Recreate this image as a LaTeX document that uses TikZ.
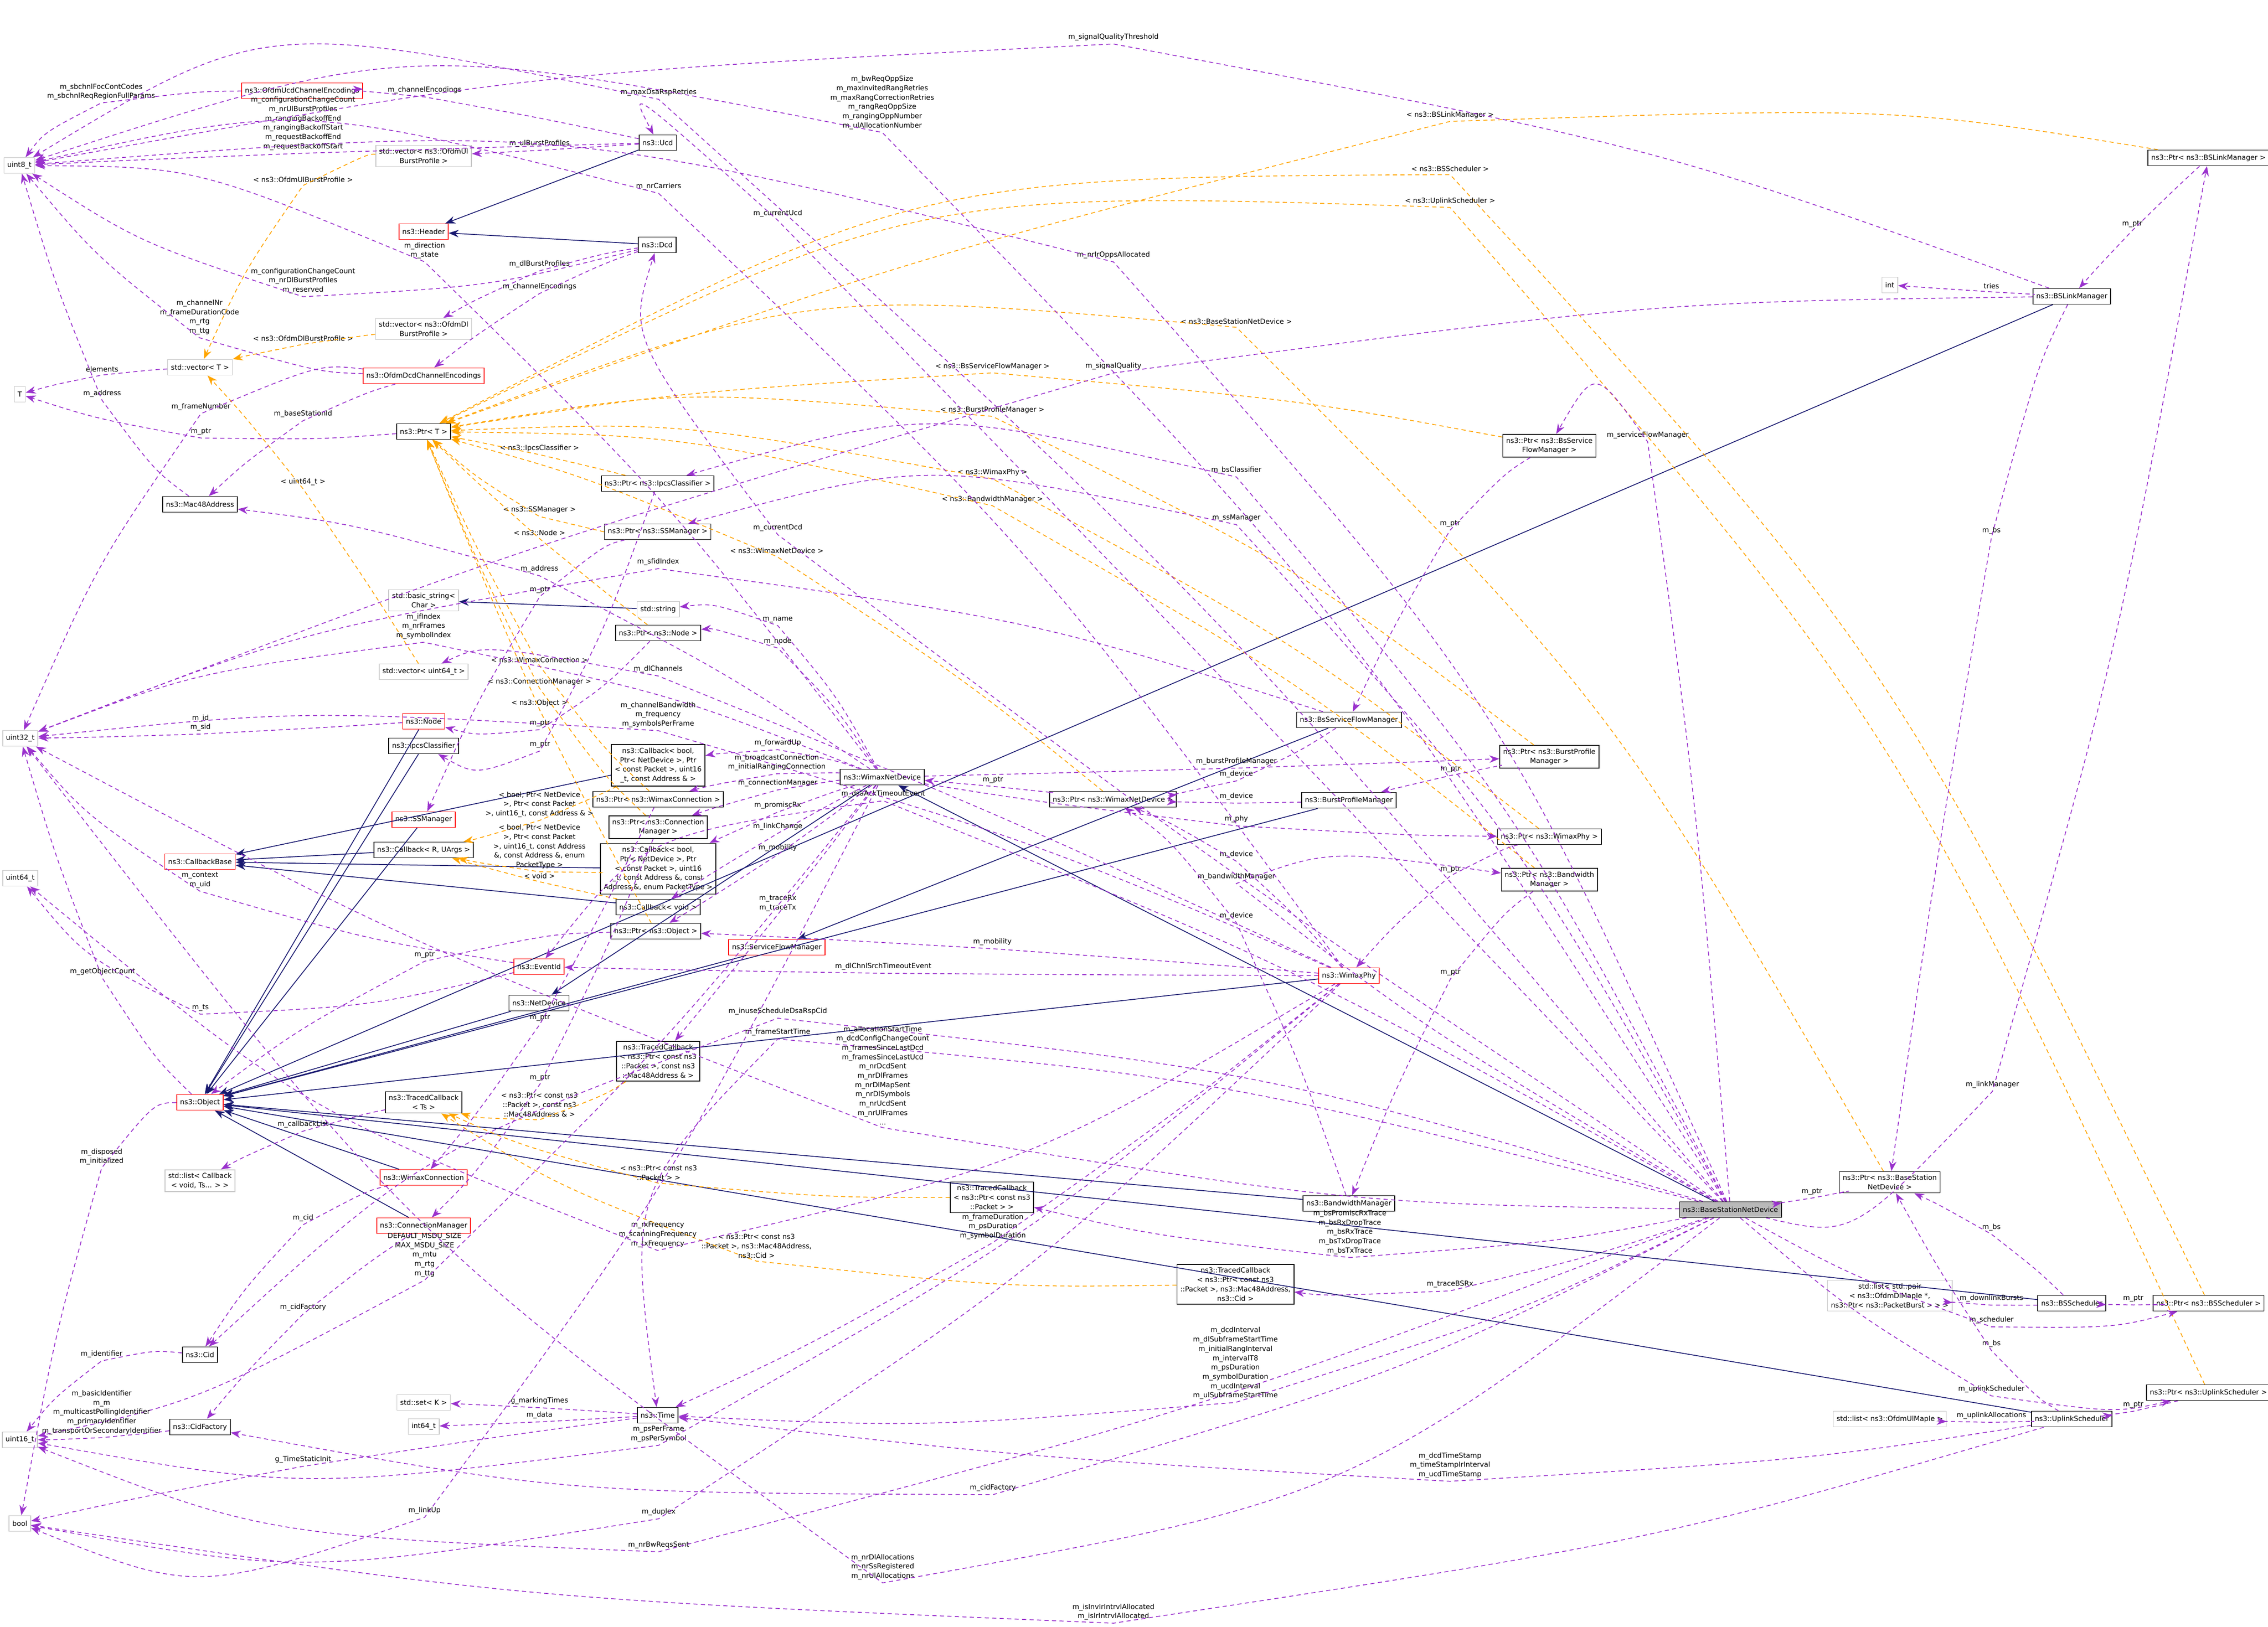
\documentclass[tikz,border=0pt]{standalone}
\usepackage{fontspec}
\setmainfont{DejaVu Sans}
\usetikzlibrary{calc,arrows.meta}
\definecolor{memcol}{HTML}{9A32CD}
\definecolor{inhcol}{HTML}{191970}
\definecolor{tplcol}{HTML}{FFA500}
% edge from #1 to #2, passing just under its label #4 placed at #3
\newcommand\edgevia[5]{\node[lbl] (L) at (#3) {#4};
  \coordinate (P) at ($(L.south)+(0,-0.06)$);
  \draw[#5] (#1) .. controls ($0.65*(P)+0.45*(#1)-0.1*(#2)$) .. (P)
    .. controls ($0.65*(P)+0.45*(#2)-0.1*(#1)$) .. (#2);}
\newcommand\mem[4]{\edgevia{#1}{#2}{#3}{#4}{memb}}
\newcommand\tpl[4]{\edgevia{#1}{#2}{#3}{#4}{tmpl}}
\begin{document}
\catcode`\_=12
\begin{tikzpicture}[%
  font=\fontsize{4.2}{5.6}\selectfont,
  >={Stealth[length=6pt,width=4.5pt]},
  cls/.style={draw=black,fill=white,line width=0.5pt,inner sep=2pt,align=center,minimum height=0.33cm},
  redcls/.style={cls,draw=red},
  extcls/.style={cls,draw=gray!45},
  lbl/.style={align=center,inner sep=0pt},
  memb/.style={->,draw=memcol,color=memcol,line width=0.5pt,dash pattern=on 2.5pt off 2pt},
  tmpl/.style={->,draw=tplcol,color=tplcol,line width=0.5pt,dash pattern=on 2.5pt off 2pt},
  inh/.style={->,draw=inhcol,color=inhcol,line width=0.5pt}
  ]
  \useasboundingbox (0,0) rectangle (47.97,-34.42);
  %% Nodes
  \node[extcls] (uint8) at (0.41,-3.50) {uint8_t};
  \node[redcls] (ofdmucd) at (6.39,-1.92) {ns3::OfdmUcdChannelEncodings};
  \node[cls] (ucd) at (13.91,-3.02) {ns3::Ucd};
  \node[extcls] (vecul) at (8.96,-3.30) {std::vector< ns3::OfdmUl\\BurstProfile >};
  \node[redcls] (header) at (8.96,-4.90) {ns3::Header};
  \node[cls] (dcd) at (13.90,-5.18) {ns3::Dcd};
  \node[extcls] (vecdl) at (8.96,-6.96) {std::vector< ns3::OfdmDl\\BurstProfile >};
  \node[extcls] (vect) at (4.23,-7.77) {std::vector< T >};
  \node[redcls] (ofdmdcd) at (8.96,-7.95) {ns3::OfdmDcdChannelEncodings};
  \node[extcls] (tt) at (0.42,-8.34) {T};
  \node[cls] (ptrt) at (8.96,-9.13) {ns3::Ptr< T >};
  \node[cls] (ptripcs) at (13.91,-10.23) {ns3::Ptr< ns3::IpcsClassifier >};
  \node[cls] (mac) at (4.23,-10.67) {ns3::Mac48Address};
  \node[cls] (ptrss) at (13.91,-11.25) {ns3::Ptr< ns3::SSManager >};
  \node[extcls] (bstr) at (8.96,-12.70) {std::basic_string<\\Char >};
  \node[extcls] (str) at (13.92,-12.89) {std::string};
  \node[cls] (ptrnode) at (13.92,-13.39) {ns3::Ptr< ns3::Node >};
  \node[extcls] (vecu64) at (8.96,-14.21) {std::vector< uint64_t >};
  \node[extcls] (uint32) at (0.43,-15.62) {uint32_t};
  \node[redcls] (node) at (8.96,-15.26) {ns3::Node};
  \node[cls] (ipcs) at (8.96,-15.78) {ns3::IpcsClassifier};
  \node[cls] (cbfwd) at (13.92,-16.19) {ns3::Callback< bool,\\ Ptr< NetDevice >, Ptr\\< const Packet >, uint16\\_t, const Address \& >};
  \node[cls] (wnd) at (18.66,-16.44) {ns3::WimaxNetDevice};
  \node[cls] (ptrwc) at (13.92,-16.91) {ns3::Ptr< ns3::WimaxConnection >};
  \node[cls] (ptrcm) at (13.92,-17.50) {ns3::Ptr< ns3::Connection\\Manager >};
  \node[redcls] (ssm) at (8.96,-17.34) {ns3::SSManager};
  \node[cls] (cbr) at (8.96,-17.98) {ns3::Callback< R, UArgs >};
  \node[redcls] (cbbase) at (4.23,-18.23) {ns3::CallbackBase};
  \node[extcls] (uint64) at (0.43,-18.58) {uint64_t};
  \node[cls] (cbprom) at (13.92,-18.38) {ns3::Callback< bool,\\ Ptr< NetDevice >, Ptr\\< const Packet >, uint16\\_t, const Address \&, const\\ Address \&, enum PacketType >};
  \node[cls] (cbvoid) at (13.92,-19.19) {ns3::Callback< void >};
  \node[cls] (ptrobj) at (13.87,-19.70) {ns3::Ptr< ns3::Object >};
  \node[redcls] (sfm) at (16.43,-20.04) {ns3::ServiceFlowManager};
  \node[redcls] (eventid) at (11.40,-20.45) {ns3::EventId};
  \node[cls] (netdev) at (11.40,-21.22) {ns3::NetDevice};
  \node[cls] (tcmac) at (13.92,-22.45) {ns3::TracedCallback\\< ns3::Ptr< const ns3\\::Packet >, const ns3\\::Mac48Address \& >};
  \node[redcls] (obj) at (4.23,-23.32) {ns3::Object};
  \node[cls] (tcts) at (8.96,-23.32) {ns3::TracedCallback\\< Ts >};
  \node[extcls] (lcb) at (4.23,-24.98) {std::list< Callback\\< void, Ts... > >};
  \node[redcls] (wc) at (8.96,-24.91) {ns3::WimaxConnection};
  \node[redcls] (cm) at (8.96,-25.93) {ns3::ConnectionManager};
  \node[cls] (cid) at (4.23,-28.66) {ns3::Cid};
  \node[extcls] (setk) at (8.96,-29.67) {std::set< K >};
  \node[extcls] (i64) at (8.96,-30.18) {int64_t};
  \node[cls] (time) at (13.91,-29.94) {ns3::Time};
  \node[cls] (cidf) at (4.23,-30.19) {ns3::CidFactory};
  \node[extcls] (uint16) at (0.42,-30.46) {uint16_t};
  \node[extcls] (bool) at (0.42,-32.23) {bool};
  \node[cls] (ptrwnd) at (23.54,-16.91) {ns3::Ptr< ns3::WimaxNetDevice >};
  \node[cls] (bssfm) at (28.53,-15.23) {ns3::BsServiceFlowManager};
  \node[cls] (ptrbpm) at (32.77,-16.01) {ns3::Ptr< ns3::BurstProfile\\Manager >};
  \node[cls] (bpm) at (28.53,-16.93) {ns3::BurstProfileManager};
  \node[cls] (ptrphy) at (32.77,-17.70) {ns3::Ptr< ns3::WimaxPhy >};
  \node[cls] (ptrbwm) at (32.77,-18.61) {ns3::Ptr< ns3::Bandwidth\\Manager >};
  \node[redcls] (phy) at (28.53,-20.64) {ns3::WimaxPhy};
  \node[cls] (tcpkt) at (20.98,-25.33) {ns3::TracedCallback\\< ns3::Ptr< const ns3\\::Packet > >};
  \node[cls] (bwm) at (28.53,-25.46) {ns3::BandwidthManager};
  \node[cls] (tccid) at (26.13,-27.17) {ns3::TracedCallback\\< ns3::Ptr< const ns3\\::Packet >, ns3::Mac48Address,\\ ns3::Cid >};
  \node[cls] (ptrbssfm) at (32.77,-9.43) {ns3::Ptr< ns3::BsService\\FlowManager >};
  \node[cls] (ptrbslm) at (46.71,-3.34) {ns3::Ptr< ns3::BSLinkManager >};
  \node[extcls] (int) at (39.97,-6.03) {int};
  \node[cls] (bslm) at (43.82,-6.27) {ns3::BSLinkManager};
  \node[cls,fill=gray!55] (bsnd) at (36.60,-25.59) {ns3::BaseStationNetDevice};
  \node[cls] (ptrbsnd) at (39.97,-25.01) {ns3::Ptr< ns3::BaseStation\\NetDevice >};
  \node[extcls] (lpair) at (39.97,-27.41) {std::list< std::pair\\< ns3::OfdmDlMapIe *,\\ ns3::Ptr< ns3::PacketBurst > > >};
  \node[cls] (bss) at (43.82,-27.57) {ns3::BSScheduler};
  \node[cls] (ptrbss) at (46.71,-27.57) {ns3::Ptr< ns3::BSScheduler >};
  \node[cls] (ptrul) at (46.71,-29.46) {ns3::Ptr< ns3::UplinkScheduler >};
  \node[extcls] (lul) at (39.97,-30.02) {std::list< ns3::OfdmUlMapIe >};
  \node[cls] (uls) at (43.82,-30.02) {ns3::UplinkScheduler};
  %% Inheritance
  \foreach \a/\b in {ucd/header,dcd/header,str/bstr,node/obj,ipcs/obj,ssm/obj,
    cbr/cbbase,cbfwd/cbbase,cbprom/cbbase,cbvoid/cbbase,wnd/netdev,netdev/obj,
    sfm/obj,wc/obj,cm/obj,bssfm/sfm,bpm/obj,phy/obj,bwm/obj,bsnd/wnd,
    bss/obj,uls/obj,bslm/obj}
    \draw[inh] (\a) -- (\b);
  %% Templates
  \tpl{vecul}{vect}{6.41,-3.80}{< ns3::OfdmUlBurstProfile >}
  \tpl{vecdl}{vect}{6.41,-7.16}{< ns3::OfdmDlBurstProfile >}
  \tpl{vecu64}{vect}{6.41,-10.20}{< uint64_t >}
  \tpl{ptripcs}{ptrt}{11.41,-9.48}{< ns3::IpcsClassifier >}
  \tpl{ptrss}{ptrt}{11.41,-10.79}{< ns3::SSManager >}
  \tpl{ptrnode}{ptrt}{11.41,-11.27}{< ns3::Node >}
  \tpl{ptrwc}{ptrt}{11.41,-13.96}{< ns3::WimaxConnection >}
  \tpl{ptrcm}{ptrt}{11.41,-14.42}{< ns3::ConnectionManager >}
  \tpl{ptrobj}{ptrt}{11.41,-14.87}{< ns3::Object >}
  \tpl{ptrwnd}{ptrt}{16.43,-11.65}{< ns3::WimaxNetDevice >}
  \tpl{ptrbslm}{ptrt}{30.67,-2.43}{< ns3::BSLinkManager >}
  \tpl{ptrbss}{ptrt}{30.67,-3.57}{< ns3::BSScheduler >}
  \tpl{ptrul}{ptrt}{30.67,-4.25}{< ns3::UplinkScheduler >}
  \tpl{ptrbsnd}{ptrt}{26.15,-6.80}{< ns3::BaseStationNetDevice >}
  \tpl{ptrbssfm}{ptrt}{20.99,-7.75}{< ns3::BsServiceFlowManager >}
  \tpl{ptrbpm}{ptrt}{20.99,-8.67}{< ns3::BurstProfileManager >}
  \tpl{ptrphy}{ptrt}{20.99,-9.99}{< ns3::WimaxPhy >}
  \tpl{ptrbwm}{ptrt}{20.99,-10.56}{< ns3::BandwidthManager >}
  \tpl{cbfwd}{cbr}{11.41,-17.02}{< bool, Ptr< NetDevice\\>, Ptr< const Packet\\>, uint16_t, const Address \& >}
  \tpl{cbprom}{cbr}{11.41,-17.91}{< bool, Ptr< NetDevice\\>, Ptr< const Packet\\>, uint16_t, const Address\\\&, const Address \&, enum\\PacketType >}
  \tpl{cbvoid}{cbr}{11.41,-18.53}{< void >}
  \tpl{tcmac}{tcts}{11.41,-23.37}{< ns3::Ptr< const ns3\\::Packet >, const ns3\\::Mac48Address \& >}
  \tpl{tcpkt}{tcts}{13.93,-24.81}{< ns3::Ptr< const ns3\\::Packet > >}
  \tpl{tccid}{tcts}{16.00,-26.36}{< ns3::Ptr< const ns3\\::Packet >, ns3::Mac48Address,\\ ns3::Cid >}
  %% Members
  \mem{ofdmucd}{uint8}{2.14,-1.94}{m_sbchnlFocContCodes\\m_sbchnlReqRegionFullParams}
  \mem{ucd}{ofdmucd}{8.98,-1.91}{m_channelEncodings}
  \mem{ucd}{uint8}{6.41,-2.61}{m_configurationChangeCount\\m_nrUlBurstProfiles\\m_rangingBackoffEnd\\m_rangingBackoffStart\\m_requestBackoffEnd\\m_requestBackoffStart}
  \mem{ucd}{vecul}{11.41,-3.04}{m_ulBurstProfiles}
  \mem{bsnd}{uint8}{13.93,-1.96}{m_maxDsaRspRetries}
  \mem{bslm}{uint8}{23.55,-0.79}{m_signalQualityThreshold}
  \mem{bsnd}{uint8}{18.66,-2.17}{m_bwReqOppSize\\m_maxInvitedRangRetries\\m_maxRangCorrectionRetries\\m_rangReqOppSize\\m_rangingOppNumber\\m_ulAllocationNumber}
  \mem{bsnd}{ucd}{16.45,-4.52}{m_currentUcd}
  \mem{bsnd}{dcd}{16.45,-11.17}{m_currentDcd}
  \mem{phy}{uint8}{13.93,-3.95}{m_nrCarriers}
  \mem{wnd}{uint8}{8.98,-5.30}{m_direction\\m_state}
  \mem{dcd}{vecdl}{11.41,-5.59}{m_dlBurstProfiles}
  \mem{dcd}{uint8}{6.41,-5.94}{m_configurationChangeCount\\m_nrDlBurstProfiles\\m_reserved}
  \mem{dcd}{ofdmdcd}{11.41,-6.07}{m_channelEncodings}
  \mem{ofdmdcd}{uint8}{4.22,-6.71}{m_channelNr\\m_frameDurationCode\\m_rtg\\m_ttg}
  \mem{vect}{tt}{2.16,-7.81}{elements}
  \mem{mac}{uint8}{2.16,-8.33}{m_address}
  \mem{ofdmdcd}{uint32}{4.25,-8.61}{m_frameNumber}
  \mem{ofdmdcd}{mac}{6.41,-8.76}{m_baseStationId}
  \mem{ptrt}{tt}{4.25,-9.13}{m_ptr}
  \mem{bsnd}{uint8}{23.55,-5.40}{m_nrIrOppsAllocated}
  \mem{bslm}{uint32}{23.55,-7.75}{m_signalQuality}
  \mem{bsnd}{ptripcs}{26.15,-9.95}{m_bsClassifier}
  \mem{bsnd}{ptrss}{26.15,-10.96}{m_ssManager}
  \mem{bsnd}{ptrbssfm}{34.85,-9.21}{m_serviceFlowManager}
  \mem{ptrbssfm}{bssfm}{30.67,-11.08}{m_ptr}
  \mem{ptrbslm}{bslm}{45.10,-4.74}{m_ptr}
  \mem{bslm}{int}{42.12,-6.05}{tries}
  \mem{bslm}{ptrbsnd}{42.12,-11.23}{m_bs}
  \mem{bsnd}{ptrbslm}{42.14,-22.95}{m_linkManager}
  \mem{bssfm}{uint32}{13.92,-11.89}{m_sfidIndex}
  \mem{wnd}{mac}{11.41,-12.04}{m_address}
  \mem{ptrss}{ssm}{11.42,-12.48}{m_ptr}
  \mem{wnd}{uint32}{8.96,-13.25}{m_ifIndex\\m_nrFrames\\m_symbolIndex}
  \mem{wnd}{str}{16.45,-13.11}{m_name}
  \mem{wnd}{ptrnode}{16.45,-13.57}{m_node}
  \mem{phy}{vecu64}{13.92,-14.16}{m_dlChannels}
  \mem{phy}{uint32}{13.92,-15.12}{m_channelBandwidth\\m_frequency\\m_symbolsPerFrame}
  \mem{ptrnode}{node}{11.42,-15.30}{m_ptr}
  \mem{ptripcs}{ipcs}{11.42,-15.75}{m_ptr}
  \mem{wnd}{cbfwd}{16.45,-15.72}{m_forwardUp}
  \mem{wnd}{ptrwc}{16.43,-16.13}{m_broadcastConnection\\m_initialRangingConnection}
  \mem{ptrwnd}{wnd}{21.00,-16.50}{m_ptr}
  \mem{wnd}{ptrcm}{16.45,-16.57}{m_connectionManager}
  \mem{bsnd}{eventid}{18.68,-16.80}{m_dsaAckTimeoutEvent}
  \mem{wnd}{cbprom}{16.45,-17.04}{m_promiscRx}
  \mem{wnd}{cbvoid}{16.45,-17.49}{m_linkChange}
  \mem{wnd}{ptrobj}{16.45,-17.94}{m_mobility}
  \mem{wnd}{tcmac}{16.45,-19.11}{m_traceRx\\m_traceTx}
  \mem{phy}{ptrobj}{20.99,-19.93}{m_mobility}
  \mem{phy}{eventid}{18.68,-20.45}{m_dlChnlSrchTimeoutEvent}
  \mem{bsnd}{cid}{16.45,-21.40}{m_inuseScheduleDsaRspCid}
  \mem{bsnd}{time}{16.45,-21.84}{m_frameStartTime}
  \mem{bsnd}{uint32}{18.67,-22.75}{m_allocationStartTime\\m_dcdConfigChangeCount\\m_framesSinceLastDcd\\m_framesSinceLastUcd\\m_nrDcdSent\\m_nrDlFrames\\m_nrDlMapSent\\m_nrDlSymbols\\m_nrUcdSent\\m_nrUlFrames\\...}
  \mem{wnd}{ptrbpm}{26.15,-16.11}{m_burstProfileManager}
  \mem{bssfm}{ptrwnd}{26.15,-16.38}{m_device}
  \mem{ptrbpm}{bpm}{30.68,-16.27}{m_ptr}
  \mem{bpm}{ptrwnd}{26.15,-16.85}{m_device}
  \mem{wnd}{ptrphy}{26.15,-17.33}{m_phy}
  \mem{phy}{ptrwnd}{26.15,-18.08}{m_device}
  \mem{ptrphy}{phy}{30.68,-18.39}{m_ptr}
  \mem{bsnd}{ptrbwm}{26.15,-18.55}{m_bandwidthManager}
  \mem{bwm}{ptrwnd}{26.15,-19.38}{m_device}
  \mem{ptrbwm}{bwm}{30.68,-20.57}{m_ptr}
  \mem{ptrobj}{obj}{8.98,-20.20}{m_ptr}
  \mem{ptrwc}{wc}{11.42,-21.53}{m_ptr}
  \mem{ptrcm}{cm}{11.42,-22.80}{m_ptr}
  \mem{tcts}{lcb}{6.41,-23.79}{m_callbackList}
  \mem{obj}{bool}{2.15,-24.47}{m_disposed\\m_initialized}
  \mem{obj}{uint32}{2.17,-20.56}{m_getObjectCount}
  \mem{eventid}{uint64}{4.24,-21.32}{m_ts}
  \mem{eventid}{uint32}{4.23,-18.62}{m_context\\m_uid}
  \mem{node}{uint32}{4.24,-15.29}{m_id\\m_sid}
  \mem{wc}{cid}{6.41,-25.77}{m_cid}
  \mem{phy}{uint64}{13.91,-26.12}{m_rxFrequency\\m_scanningFrequency\\m_txFrequency}
  \mem{wnd}{uint16}{8.98,-26.55}{DEFAULT_MSDU_SIZE\\MAX_MSDU_SIZE\\m_mtu\\m_rtg\\m_ttg}
  \mem{cm}{cidf}{6.41,-27.66}{m_cidFactory}
  \mem{cid}{uint16}{2.15,-28.65}{m_identifier}
  \mem{time}{setk}{11.41,-29.64}{g_markingTimes}
  \mem{time}{i64}{11.41,-29.94}{m_data}
  \mem{cidf}{uint16}{2.15,-29.88}{m_basicIdentifier\\m_m\\m_multicastPollingIdentifier\\m_primaryIdentifier\\m_transportOrSecondaryIdentifier}
  \mem{phy}{uint16}{13.93,-30.34}{m_psPerFrame\\m_psPerSymbol}
  \mem{time}{bool}{6.41,-30.88}{g_TimeStaticInit}
  \mem{wnd}{bool}{8.98,-31.96}{m_linkUp}
  \mem{phy}{bool}{13.93,-31.99}{m_duplex}
  \mem{bsnd}{uint16}{13.93,-32.69}{m_nrBwReqsSent}
  \mem{phy}{time}{21.00,-25.95}{m_frameDuration\\m_psDuration\\m_symbolDuration}
  \mem{bsnd}{tcpkt}{28.55,-26.07}{m_bsPromiscRxTrace\\m_bsRxDropTrace\\m_bsRxTrace\\m_bsTxDropTrace\\m_bsTxTrace}
  \mem{bsnd}{tccid}{30.67,-27.17}{m_traceBSRx}
  \mem{bsnd}{time}{26.13,-28.84}{m_dcdInterval\\m_dlSubframeStartTime\\m_initialRangInterval\\m_intervalT8\\m_psDuration\\m_symbolDuration\\m_ucdInterval\\m_ulSubframeStartTime}
  \mem{uls}{time}{30.67,-31.00}{m_dcdTimeStamp\\m_timeStampIrInterval\\m_ucdTimeStamp}
  \mem{bsnd}{cidf}{21.00,-31.48}{m_cidFactory}
  \mem{bsnd}{uint32}{18.67,-33.15}{m_nrDlAllocations\\m_nrSsRegistered\\m_nrUlAllocations}
  \mem{uls}{bool}{23.55,-34.10}{m_isInvIrIntrvlAllocated\\m_isIrIntrvlAllocated}
  \mem{ptrbsnd}{bsnd}{38.32,-25.21}{m_ptr}
  \mem{bss}{ptrbsnd}{42.12,-25.97}{m_bs}
  \mem{bss}{lpair}{42.12,-27.47}{m_downlinkBursts}
  \mem{ptrbss}{bss}{45.12,-27.47}{m_ptr}
  \mem{bsnd}{ptrbss}{42.12,-27.93}{m_scheduler}
  \mem{uls}{ptrbsnd}{42.12,-28.43}{m_bs}
  \mem{bsnd}{ptrul}{42.12,-29.39}{m_uplinkScheduler}
  \mem{ptrul}{uls}{45.12,-29.72}{m_ptr}
  \mem{uls}{lul}{42.12,-29.95}{m_uplinkAllocations}
\end{tikzpicture}
\end{document}
